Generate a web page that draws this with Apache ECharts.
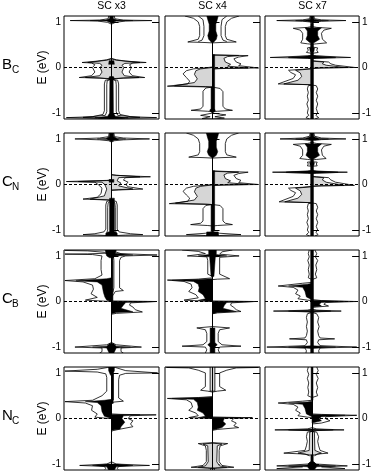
<!DOCTYPE html>
<html>
<head>
<meta charset="utf-8" />
<script src="https://cdn.jsdelivr.net/npm/echarts@6/dist/echarts.min.js"></script>
<style>
  body { margin: 0; background: #fff; }
  #main { width: 374px; height: 471px; }
</style>
</head>
<body>
<div id="main"></div>
<script type="text/javascript">
// column titles, row labels (main letter + subscript), tick labels
var colTitles = ['SC x3', 'SC x4', 'SC x7'];
var rowMain = ['B', 'C', 'C', 'N'];
var rowSub = ['C', 'N', 'B', 'C'];
var tickTicks = [-1, 1];
var tickLabels = [-1, 0, 1];

// each shape is a flat list x,E,x,E,... (x = spin DOS, left = up, right = down; E in eV)
// ---- B_C, SC x3
var bc3_out = [
  [0,1.13, -0.06,1.13, -0.07,1.07, -0.25,1.04, -0.87,1.03, -0.3,1.02, -0.08,0.99, 0,0.95],
  [0,1.13, 0.06,1.13, 0.07,1.07, 0.25,1.04, 0.85,1.03, 0.3,1.02, 0.08,0.99, 0,0.95],
  [0,0.2, -0.1,0.17, -0.3,0.14, -0.62,0.11, -0.42,0.1, -0.35,0.06, -0.4,0.0, -0.35,-0.1, -0.42,-0.18, -0.68,-0.22, -0.25,-0.23, -0.06,-0.25, 0,-0.26],
  [0,0.2, 0.1,0.17, 0.3,0.14, 0.73,0.11, 0.45,0.1, 0.38,0.06, 0.42,0.0, 0.37,-0.1, 0.44,-0.18, 0.7,-0.22, 0.25,-0.23, 0.06,-0.25, 0,-0.26],
  [0,-0.26, -0.13,-0.28, -0.15,-0.36, -0.15,-0.95, -0.18,-1.03, -0.4,-1.08, -0.95,-1.1, -0.3,-1.115, -0.1,-1.125, 0,-1.13],
  [0,-0.25, -0.09,-0.29, -0.1,-0.38, -0.1,-0.97, -0.13,-1.05, -0.6,-1.095, -0.1,-1.11, 0,-1.12],
  [0,-0.26, 0.13,-0.28, 0.15,-0.36, 0.15,-0.95, 0.18,-1.03, 0.4,-1.08, 0.95,-1.1, 0.3,-1.115, 0.1,-1.125, 0,-1.13],
  [0,-0.25, 0.09,-0.29, 0.1,-0.38, 0.1,-0.97, 0.13,-1.05, 0.6,-1.095, 0.1,-1.11, 0,-1.12]
];
var bc3_gray = [
  [0,0.19, -0.1,0.16, -0.5,0.11, -0.25,0.09, -0.2,0.05, -0.24,0.0, -0.2,-0.1, -0.25,-0.18, -0.55,-0.22, -0.1,-0.24, 0,-0.25],
  [0,0.19, 0.1,0.16, 0.6,0.11, 0.28,0.09, 0.22,0.05, 0.26,0.0, 0.22,-0.1, 0.27,-0.18, 0.58,-0.22, 0.1,-0.24, 0,-0.25]
];
var bc3_black = [
  [-0.035,1.13, 0.035,1.13, 0.04,1.07, 0.12,1.04, 0.45,1.03, 0.1,1.02, 0.03,0.99, 0,0.96, -0.03,0.99, -0.1,1.02, -0.45,1.03, -0.12,1.04, -0.04,1.07],
  [-0.05,0.15, 0.05,0.15, 0.06,0.07, -0.06,0.07],
  [-0.04,-0.2, 0.04,-0.2, 0.06,-0.24, 0.035,-0.28, 0.04,-1.0, 0.08,-1.07, 0.35,-1.1, 0.06,-1.12, 0.05,-1.13, -0.05,-1.13, -0.06,-1.12, -0.35,-1.1, -0.08,-1.07, -0.04,-1.0, -0.035,-0.28, -0.06,-0.24]
];
// ---- B_C, SC x4
var bc4_out = [
  [-0.58,1.13, -0.4,1.08, -0.3,1.0, -0.27,0.9, -0.27,0.7, -0.3,0.62, -0.52,0.56, -0.2,0.55, 0,0.54],
  [0.56,1.13, 0.4,1.08, 0.3,1.0, 0.27,0.9, 0.27,0.7, 0.3,0.62, 0.5,0.56, 0.2,0.55, 0,0.54],
  [-0.3,1.13, -0.2,1.05, -0.18,0.9, -0.18,0.7, -0.22,0.6, -0.3,0.57],
  [0.3,1.13, 0.2,1.05, 0.18,0.9, 0.18,0.7, 0.22,0.6, 0.3,0.57],
  [0,0.28, 0.2,0.275, 0.75,0.26, 0.55,0.23, 0.45,0.19, 0.5,0.12, 0.6,0.08, 0.55,0.04, 0.97,-0.01, 0.3,-0.02, 0,-0.03],
  [0,0.01, -0.1,0.0, -0.4,-0.03, -0.55,-0.07, -0.62,-0.14, -0.55,-0.22, -0.48,-0.3, -0.52,-0.36, -0.95,-0.41, -0.2,-0.425, 0,-0.43],
  [0,-0.43, -0.14,-0.45, -0.2,-0.52, -0.2,-0.85, -0.25,-0.91, -0.45,-0.94, -0.1,-0.96, 0,-0.97],
  [0,-0.43, 0.16,-0.46, 0.22,-0.53, 0.22,-0.85, 0.27,-0.91, 0.42,-0.94, 0.1,-0.96, 0,-0.97],
  [0,-1.0, -0.25,-1.05, -0.05,-1.08, -0.22,-1.12, 0,-1.13],
  [0,-1.0, 0.28,-1.04, 0.05,-1.08, 0.25,-1.11, 0,-1.13]
];
var bc4_gray = [
  [0,0.27, 0.55,0.26, 0.32,0.24, 0.24,0.2, 0.27,0.12, 0.38,0.07, 0.32,0.03, 0.75,-0.01, 0.2,-0.02, 0,-0.03],
  [0,0.0, -0.25,-0.03, -0.35,-0.07, -0.38,-0.15, -0.32,-0.25, -0.38,-0.33, -0.8,-0.4, -0.15,-0.42, 0,-0.43]
];
var bc4_black = [
  [-0.12,1.13, 0.12,1.13, 0.1,1.05, 0.07,0.95, 0.07,0.8, 0.1,0.7, 0.08,0.62, 0.02,0.55, -0.02,0.55, -0.08,0.62, -0.1,0.7, -0.07,0.8, -0.07,0.95, -0.1,1.05],
  [0,0.28, 0.045,0.28, 0.045,-0.95, 0,-0.95],
  [-0.03,-0.43, 0.03,-0.43, 0.03,-0.9, 0.06,-0.94, 0.03,-0.98, -0.03,-0.98, -0.06,-0.94, -0.03,-0.9]
];
// ---- B_C, SC x7
var bc7_out = [
  [0,1.13, -0.04,1.13, -0.05,1.07, -0.2,1.045, -0.75,1.03, -0.2,1.015, -0.05,1.0, 0,0.97],
  [0,1.13, 0.04,1.13, 0.05,1.07, 0.2,1.045, 0.72,1.03, 0.2,1.015, 0.05,1.0, 0,0.97],
  [0,0.9, -0.1,0.88, -0.4,0.86, -0.25,0.82, -0.2,0.75, -0.2,0.62, -0.24,0.54, -0.1,0.52, 0,0.51],
  [0,0.9, 0.1,0.88, 0.41,0.86, 0.25,0.82, 0.2,0.75, 0.22,0.62, 0.31,0.54, 0.1,0.52, 0,0.51],
  [0,0.45, -0.1,0.43, -0.08,0.38, -0.12,0.33, 0,0.31],
  [0,0.45, 0.12,0.43, 0.1,0.38, 0.13,0.33, 0,0.31],
  [0,0.27, -0.1,0.255, -0.89,0.22, -0.1,0.205, 0,0.19],
  [0,0.27, 0.1,0.255, 0.82,0.22, 0.1,0.205, 0,0.19],
  [0,0.15, 0.1,0.14, 0.35,0.12, 0.4,0.08, 0.5,0.05, 0.92,0.0, 0.2,-0.01, 0,-0.02],
  [0,-0.02, -0.2,-0.04, -0.5,-0.06, -0.45,-0.11, -0.35,-0.16, -0.4,-0.24, -0.72,-0.36, -0.1,-0.375, 0,-0.385],
  [0,-0.385, -0.08,-0.4, -0.1,-0.47, -0.08,-0.55, -0.1,-0.63, -0.08,-0.72, -0.11,-0.8, -0.08,-0.9, -0.1,-1.0, -0.07,-1.05, -0.13,-1.1, -0.05,-1.13],
  [0,-0.385, 0.09,-0.4, 0.12,-0.47, 0.09,-0.55, 0.12,-0.63, 0.09,-0.72, 0.12,-0.8, 0.09,-0.9, 0.12,-1.0, 0.08,-1.05, 0.14,-1.1, 0.06,-1.13]
];
var bc7_gray = [
  [0,0.14, 0.25,0.12, 0.22,0.08, 0.3,0.05, 0.7,0.0, 0.15,-0.01, 0,-0.02],
  [0,-0.03, -0.35,-0.06, -0.25,-0.12, -0.22,-0.2, -0.3,-0.28, -0.6,-0.36, 0,-0.38]
];
var bc7_black = [
  [-0.03,1.13, 0.03,1.13, 0.04,1.06, 0.15,1.035, 0.35,1.03, 0.1,1.015, 0.03,1.0, 0,0.97, -0.03,1.0, -0.1,1.015, -0.35,1.03, -0.15,1.035, -0.04,1.06],
  [-0.15,0.87, 0.2,0.87, 0.12,0.8, 0.12,0.7, 0.16,0.62, 0.05,0.55, -0.05,0.55, -0.13,0.62, -0.1,0.7, -0.1,0.8],
  [-0.05,0.43, 0.05,0.43, 0.04,0.35, -0.04,0.35],
  [-0.03,0.26, 0.03,0.26, 0.5,0.225, 0.5,0.215, 0.03,0.2, -0.03,0.2, -0.5,0.215, -0.5,0.225],
  [-0.03,0.97, 0.03,0.97, 0.03,-1.13, -0.03,-1.13]
];
// ---- C_N, SC x3
var cn3_out = [
  [0,1.13, -0.05,1.13, -0.06,1.05, -0.25,1.02, -0.77,1.0, -0.25,0.98, -0.06,0.96, 0,0.93],
  [0,1.13, 0.05,1.13, 0.06,1.05, 0.25,1.02, 0.8,1.0, 0.25,0.98, 0.06,0.96, 0,0.93],
  [0,0.22, 0.1,0.2, 0.82,0.17, 0.3,0.15, 0.25,0.1, 0.35,0.05, 0.3,0.0, 0.35,-0.05, 0.66,-0.1, 0.15,-0.12, 0,-0.13],
  [0,0.1, -0.1,0.09, -0.95,0.065, -0.35,0.05, -0.28,0.0, -0.2,-0.08, -0.22,-0.2, -0.3,-0.28, -0.6,-0.32, -0.1,-0.34, 0,-0.35],
  [0,-0.35, -0.1,-0.37, -0.12,-0.45, -0.12,-0.98, -0.16,-1.04, -0.35,-1.08, -0.6,-1.1, -0.3,-1.11, -0.1,-1.12, 0,-1.13],
  [0,-0.35, 0.1,-0.37, 0.12,-0.45, 0.12,-0.98, 0.16,-1.04, 0.4,-1.08, 0.66,-1.1, 0.3,-1.11, 0.1,-1.12, 0,-1.13],
  [0,-0.36, -0.07,-0.4, -0.08,-0.5, -0.08,-1.0, -0.1,-1.06, 0,-1.08],
  [0,-0.36, 0.07,-0.4, 0.08,-0.5, 0.08,-1.0, 0.1,-1.06, 0,-1.08]
];
var cn3_gray = [
  [0,0.21, 0.6,0.17, 0.15,0.15, 0.12,0.08, 0.2,0.03, 0.15,-0.03, 0.45,-0.1, 0,-0.12],
  [0,0.09, -0.7,0.065, -0.2,0.05, -0.14,0.0, -0.1,-0.1, -0.15,-0.25, -0.45,-0.32, 0,-0.34]
];
var cn3_black = [
  [-0.04,1.13, 0.04,1.13, 0.05,1.05, 0.12,1.01, 0.3,1.0, 0.1,0.99, 0.03,0.96, 0,0.93, -0.03,0.96, -0.1,0.99, -0.3,1.0, -0.12,1.01, -0.05,1.05],
  [-0.05,0.11, 0.05,0.11, 0.05,0.05, -0.05,0.05],
  [-0.04,-0.3, 0.06,-0.3, 0.06,-1.03, 0.12,-1.07, 0.12,-1.13, -0.12,-1.13, -0.12,-1.07, -0.04,-1.03]
];
// ---- C_N, SC x4
var cn4_out = [
  [-0.55,1.13, -0.4,1.08, -0.3,1.0, -0.27,0.9, -0.27,0.72, -0.3,0.65, -0.5,0.6, -0.2,0.59, 0,0.58],
  [0.55,1.13, 0.4,1.08, 0.3,1.0, 0.27,0.9, 0.27,0.72, 0.3,0.65, 0.5,0.6, 0.2,0.59, 0,0.58],
  [0,0.3, 0.2,0.29, 0.75,0.27, 0.55,0.24, 0.45,0.2, 0.5,0.13, 0.6,0.09, 0.55,0.04, 0.97,0.0, 0.3,-0.01, 0,-0.02],
  [0,0.0, -0.1,-0.01, -0.4,-0.04, -0.55,-0.08, -0.62,-0.15, -0.55,-0.23, -0.48,-0.3, -0.52,-0.37, -0.91,-0.42, -0.2,-0.435, 0,-0.44],
  [0,-0.44, -0.14,-0.46, -0.2,-0.53, -0.2,-0.8, -0.25,-0.85, -0.46,-0.88, -0.1,-0.9, 0,-0.91],
  [0,-0.44, 0.16,-0.46, 0.22,-0.53, 0.22,-0.8, 0.27,-0.85, 0.42,-0.88, 0.1,-0.9, 0,-0.91],
  [0,-1.04, -0.15,-1.07, -0.55,-1.1, -0.15,-1.12, 0,-1.13],
  [0,-1.04, 0.15,-1.07, 0.6,-1.1, 0.15,-1.12, 0,-1.13]
];
var cn4_gray = [
  [0,0.29, 0.55,0.27, 0.32,0.25, 0.24,0.21, 0.27,0.13, 0.38,0.08, 0.32,0.04, 0.75,0.0, 0.2,-0.01, 0,-0.02],
  [0,-0.01, -0.25,-0.04, -0.35,-0.08, -0.38,-0.16, -0.32,-0.26, -0.38,-0.34, -0.78,-0.41, -0.15,-0.43, 0,-0.44]
];
var cn4_black = [
  [-0.13,1.13, 0.13,1.13, 0.11,1.05, 0.08,0.95, 0.08,0.82, 0.11,0.72, 0.08,0.64, 0.02,0.59, -0.02,0.59, -0.08,0.64, -0.11,0.72, -0.08,0.82, -0.08,0.95, -0.11,1.05],
  [0,0.3, 0.045,0.3, 0.045,-1.0, 0,-1.0],
  [-0.03,-0.44, 0.03,-0.44, 0.03,-1.03, -0.03,-1.03],
  [-0.12,-1.04, 0.12,-1.04, 0.13,-1.13, -0.13,-1.13]
];
// ---- C_N, SC x7
var cn7_out = [
  [0,1.13, -0.04,1.13, -0.05,1.06, -0.2,1.02, -0.68,1.0, -0.2,0.985, -0.05,0.97, 0,0.94],
  [0,1.13, 0.04,1.13, 0.05,1.06, 0.2,1.02, 0.72,1.0, 0.2,0.985, 0.05,0.97, 0,0.94],
  [0,0.92, -0.1,0.9, -0.4,0.88, -0.25,0.84, -0.2,0.76, -0.2,0.64, -0.26,0.57, -0.1,0.55, 0,0.54],
  [0,0.92, 0.1,0.9, 0.41,0.88, 0.25,0.84, 0.2,0.76, 0.22,0.64, 0.3,0.57, 0.1,0.55, 0,0.54],
  [0,0.5, -0.1,0.49, -0.08,0.45, -0.1,0.41, 0,0.4],
  [0,0.5, 0.11,0.49, 0.09,0.45, 0.11,0.41, 0,0.4],
  [0,0.31, -0.1,0.29, -0.84,0.27, -0.1,0.25, 0,0.24],
  [0,0.31, 0.1,0.29, 0.75,0.27, 0.1,0.25, 0,0.24],
  [0,0.18, 0.1,0.17, 0.35,0.15, 0.4,0.1, 0.5,0.05, 0.9,-0.02, 0.2,-0.03, 0,-0.04],
  [0,-0.04, -0.2,-0.06, -0.5,-0.08, -0.45,-0.13, -0.35,-0.18, -0.4,-0.26, -0.7,-0.38, -0.1,-0.395, 0,-0.405],
  [0,-0.405, -0.08,-0.42, -0.1,-0.5, -0.08,-0.58, -0.1,-0.66, -0.08,-0.75, -0.11,-0.83, -0.08,-0.92, -0.1,-1.0, -0.07,-1.05, -0.12,-1.1, -0.05,-1.13],
  [0,-0.405, 0.09,-0.42, 0.12,-0.5, 0.09,-0.58, 0.12,-0.66, 0.09,-0.75, 0.12,-0.83, 0.09,-0.92, 0.12,-1.0, 0.08,-1.05, 0.13,-1.1, 0.06,-1.13]
];
var cn7_gray = [
  [0,0.17, 0.25,0.15, 0.22,0.1, 0.3,0.05, 0.68,-0.02, 0.15,-0.03, 0,-0.04],
  [0,-0.05, -0.35,-0.08, -0.25,-0.14, -0.22,-0.22, -0.3,-0.3, -0.58,-0.38, 0,-0.4]
];
var cn7_black = [
  [-0.03,1.13, 0.03,1.13, 0.04,1.05, 0.15,1.01, 0.35,1.0, 0.1,0.985, 0.03,0.97, 0,0.94, -0.03,0.97, -0.1,0.985, -0.35,1.0, -0.15,1.01, -0.04,1.05],
  [-0.15,0.89, 0.2,0.89, 0.12,0.82, 0.12,0.72, 0.16,0.64, 0.05,0.57, -0.05,0.57, -0.13,0.64, -0.1,0.72, -0.1,0.82],
  [-0.05,0.48, 0.05,0.48, 0.04,0.42, -0.04,0.42],
  [-0.03,0.3, 0.03,0.3, 0.55,0.275, 0.55,0.265, 0.03,0.245, -0.03,0.245, -0.55,0.265, -0.55,0.275],
  [-0.03,0.94, 0.03,0.94, 0.03,-1.13, -0.03,-1.13]
];
// ---- C_B, SC x3
var cb3_out = [
  [-0.98,1.12, -0.5,1.11, -0.15,1.08, -0.12,1.06, -0.5,1.045, -0.98,1.04, -0.4,1.03, -0.2,1.0, -0.22,0.9, -0.22,0.7, -0.2,0.58, -0.35,0.5, -0.98,0.46, -0.6,0.43, -0.4,0.36, -0.38,0.27, -0.43,0.17, -0.3,0.09, -0.55,0.03, -0.1,0.005, 0,0.0],
  [0,1.13, 0.05,1.1, 0.2,1.05, 0.96,1.02, 0.3,1.0, 0.2,0.97, 0.17,0.9, 0.17,0.3, 0.25,0.24, 0.08,0.22, 0.04,0.15, 0,0.1],
  [0.04,1.0, 0.05,0.9, 0.05,0.3, 0.03,0.2],
  [0,0.01, 0.95,0.0, 0.4,-0.03, 0.38,-0.08, 0.45,-0.12, 0.5,-0.18, 0.65,-0.23, 0.1,-0.26, 0,-0.28],
  [0,-0.9, -0.1,-0.95, -0.77,-1.0, -0.2,-1.02, -0.2,-1.1, -0.25,-1.13],
  [0,-0.9, 0.1,-0.95, 0.63,-1.0, 0.2,-1.02, 0.2,-1.1, 0.25,-1.13]
];
var cb3_gray = [];
var cb3_black = [
  [-0.13,1.13, 0.1,1.13, 0.08,1.06, 0.45,1.02, 0.06,1.0, 0.04,0.96, -0.04,0.96, -0.1,1.0, -0.12,1.06],
  [0,0.52, -0.1,0.5, -0.75,0.455, -0.3,0.43, -0.2,0.36, -0.17,0.2, -0.14,0.1, -0.1,0.03, 0,0.0],
  [0,0.98, 0.03,0.98, 0.03,0.0, 0,0.0],
  [0,0.005, 0.9,0.0, 0.3,-0.02, 0.25,-0.08, 0.2,-0.15, 0.45,-0.225, 0.1,-0.24, 0,-0.27],
  [-0.04,-0.92, 0.04,-0.92, 0.1,-0.98, 0.4,-1.0, 0.1,-1.02, 0.05,-1.13, -0.05,-1.13, -0.1,-1.02, -0.4,-1.0, -0.1,-0.98]
];
// ---- C_B, SC x4
var cb4_out = [
  [-0.64,1.13, -0.3,1.1, -0.15,1.05, -0.53,1.0, -0.12,0.98, -0.1,0.9, -0.1,0.6, 0,0.55],
  [0.42,1.13, 0.2,1.09, 0.15,1.04, 0.56,1.0, 0.15,0.97, 0.15,0.6, 0.36,0.5, 0.1,0.49, 0,0.48],
  [0,0.52, -0.3,0.49, -0.95,0.47, -0.6,0.44, -0.45,0.38, -0.43,0.3, -0.5,0.22, -0.35,0.15, -0.3,0.08, -0.6,0.03, -0.1,0.005, 0,0.0],
  [0,0.01, 0.9,0.0, 0.4,-0.03, 0.38,-0.08, 0.45,-0.13, 0.5,-0.18, 0.6,-0.22, 0.1,-0.25, 0,-0.27],
  [0,-0.55, -0.33,-0.58, -0.15,-0.62, -0.12,-0.7, -0.12,-0.88, -0.2,-0.95, -0.64,-0.98, -0.15,-1.0, -0.12,-1.06, -0.15,-1.13],
  [0,-0.55, 0.36,-0.58, 0.15,-0.62, 0.12,-0.7, 0.12,-0.88, 0.2,-0.95, 0.6,-0.98, 0.15,-1.0, 0.12,-1.06, 0.15,-1.13]
];
var cb4_gray = [];
var cb4_black = [
  [-0.08,1.13, 0.08,1.13, 0.08,1.03, 0.3,1.0, 0.06,0.98, 0.03,0.55, -0.03,0.55, -0.06,0.98, -0.3,1.0, -0.08,1.03],
  [0,0.5, -0.3,0.485, -0.85,0.465, -0.4,0.44, -0.3,0.38, -0.28,0.3, -0.3,0.22, -0.2,0.15, -0.15,0.06, -0.3,0.025, 0,0.0],
  [0,0.005, 0.85,0.0, 0.3,-0.02, 0.25,-0.08, 0.22,-0.15, 0.5,-0.22, 0.1,-0.24, 0,-0.27],
  [-0.05,-0.58, 0.05,-0.58, 0.05,-0.9, 0.1,-0.95, 0.05,-1.0, 0.05,-1.13, -0.05,-1.13, -0.05,-1.0, -0.1,-0.95, -0.05,-0.9]
];
// ---- C_B, SC x7
var cb7_out = [
  [-0.06,1.13, -0.08,1.05, -0.06,0.98, -0.09,0.9, -0.06,0.8, -0.08,0.7, -0.06,0.6, -0.08,0.52, 0,0.48],
  [0.06,1.13, 0.1,1.05, 0.07,0.98, 0.12,0.9, 0.08,0.8, 0.1,0.7, 0.07,0.6, 0.1,0.52, 0,0.48],
  [0,0.42, -0.2,0.4, -0.72,0.34, -0.4,0.31, -0.3,0.25, -0.35,0.17, -0.25,0.12, -0.3,0.06, -0.1,0.03, 0,0.02],
  [0,0.04, 0.2,0.02, 0.95,0.0, 0.3,-0.02, 0.25,-0.06, 0.35,-0.1, 0.1,-0.12, 0,-0.13],
  [0,-0.17, -0.1,-0.19, -0.82,-0.21, -0.1,-0.225, 0,-0.24],
  [0,-0.17, 0.1,-0.19, 0.62,-0.21, 0.1,-0.225, 0,-0.24],
  [0,-0.24, -0.1,-0.27, -0.12,-0.35, -0.1,-0.45, -0.12,-0.55, -0.1,-0.65, -0.12,-0.75, -0.15,-0.8, -0.48,-0.82, -0.12,-0.84, -0.1,-0.9, -0.15,-0.97, -0.96,-1.0, -0.15,-1.02, -0.12,-1.08, -0.13,-1.13],
  [0,-0.24, 0.1,-0.27, 0.14,-0.35, 0.12,-0.45, 0.15,-0.55, 0.12,-0.65, 0.14,-0.75, 0.17,-0.8, 0.48,-0.82, 0.14,-0.84, 0.12,-0.9, 0.17,-0.97, 0.95,-1.0, 0.17,-1.02, 0.14,-1.08, 0.15,-1.13]
];
var cb7_gray = [];
var cb7_black = [
  [-0.03,1.13, 0.03,1.13, 0.03,-1.13, -0.03,-1.13],
  [0,0.4, -0.1,0.38, -0.5,0.34, -0.2,0.31, -0.15,0.22, -0.12,0.1, 0,0.04],
  [0,0.03, 0.7,0.0, 0.2,-0.02, 0.15,-0.06, 0.2,-0.1, 0,-0.12],
  [0,-0.19, -0.5,-0.21, 0,-0.23, 0.4,-0.21],
  [0,-0.97, 0.5,-1.0, 0,-1.03, -0.5,-1.0]
];
// ---- N_C, SC x3
var nc3_out = [
  [0,1.13, -0.08,1.12, -0.3,1.08, -0.98,1.04, -0.3,1.02, -0.12,0.98, -0.1,0.9, -0.1,0.6, -0.2,0.5, -0.4,0.4, -0.98,0.37, -0.55,0.34, -0.4,0.28, -0.42,0.18, -0.3,0.1, -0.35,0.03, -0.05,0.0, 0,0.0],
  [0,1.13, 0.08,1.12, 0.3,1.05, 0.97,1.0, 0.3,0.99, 0.17,0.95, 0.15,0.85, 0.15,0.45, 0.25,0.38, 0.05,0.36, 0,0.33],
  [0.04,0.98, 0.04,0.4],
  [0,0.1, 0.2,0.09, 0.94,0.08, 0.4,0.06, 0.35,0.0, 0.45,-0.05, 0.4,-0.12, 0.45,-0.18, 0.2,-0.23, 0.05,-0.26, 0,-0.28],
  [0,-0.95, -0.1,-1.0, -0.67,-1.03, -0.15,-1.05, -0.12,-1.1, -0.15,-1.13],
  [0,-0.95, 0.1,-1.0, 0.8,-1.03, 0.15,-1.05, 0.12,-1.1, 0.15,-1.13]
];
var nc3_gray = [];
var nc3_black = [
  [-0.06,1.13, 0.06,1.13, 0.06,1.05, 0.02,0.95, -0.02,0.95, -0.06,1.05],
  [0,1.0, 0.035,1.0, 0.035,0.33, 0,0.33],
  [0,0.42, -0.15,0.4, -0.55,0.37, -0.3,0.35, -0.22,0.28, -0.2,0.15, -0.15,0.05, 0,0.0],
  [0,0.09, 0.6,0.08, 0.25,0.06, 0.22,0.0, 0.28,-0.08, 0.2,-0.18, 0.18,-0.23, 0,-0.26],
  [-0.1,-1.0, 0.1,-1.0, 0.45,-1.03, 0.1,-1.06, 0.06,-1.13, -0.06,-1.13, -0.1,-1.06, -0.4,-1.03]
];
// ---- N_C, SC x4
var nc4_out = [
  [0,1.13, -0.5,1.125, -0.97,1.12, -0.5,1.11, -0.3,1.06, -0.15,1.0, -0.15,0.7, -0.25,0.62, -0.1,0.6, 0,0.58],
  [0,1.13, 0.5,1.125, 0.97,1.12, 0.5,1.11, 0.3,1.06, 0.15,1.0, 0.15,0.7, 0.28,0.62, 0.1,0.6, 0,0.58],
  [0,0.48, -0.3,0.46, -0.95,0.44, -0.55,0.41, -0.45,0.35, -0.42,0.25, -0.5,0.18, -0.35,0.12, -0.3,0.06, -0.5,0.02, 0,0.0],
  [0,0.03, 0.3,0.025, 0.84,0.02, 0.45,0.0, 0.4,-0.05, 0.5,-0.1, 0.45,-0.16, 0.55,-0.2, 0.1,-0.24, 0,-0.26],
  [0,-0.53, -0.3,-0.55, -0.15,-0.6, -0.13,-0.7, -0.13,-0.95, -0.2,-1.03, -0.45,-1.07, -0.1,-1.09, 0,-1.1],
  [0,-0.53, 0.32,-0.55, 0.16,-0.6, 0.14,-0.7, 0.14,-0.95, 0.2,-1.03, 0.45,-1.07, 0.1,-1.09, 0,-1.1]
];
var nc4_gray = [
  [-0.05,1.13, 0.05,1.13, 0.05,0.6, -0.05,0.6],
  [0,-0.54, -0.2,-0.56, -0.1,-0.6, -0.09,-0.95, -0.15,-1.04, -0.3,-1.07, 0,-1.09, 0.3,-1.07, 0.15,-1.04, 0.09,-0.95, 0.1,-0.6, 0.2,-0.56],
  [-0.04,-1.09, 0.04,-1.09, 0.04,-1.13, -0.04,-1.13]
];
var nc4_black = [
  [0,0.47, -0.3,0.455, -0.85,0.44, -0.4,0.42, -0.32,0.35, -0.3,0.25, -0.32,0.18, -0.2,0.12, -0.15,0.05, -0.3,0.02, 0,0.0],
  [0,0.03, 0.6,0.02, 0.25,0.0, 0.22,-0.06, 0.28,-0.12, 0.2,-0.2, 0.05,-0.24, 0,-0.25]
];
// ---- N_C, SC x7
var nc7_out = [
  [-0.08,1.13, -0.1,1.05, -0.07,0.97, -0.1,0.88, -0.07,0.78, -0.09,0.68, -0.07,0.58, -0.09,0.5, 0,0.46],
  [0.1,1.13, 0.13,1.05, 0.09,0.97, 0.13,0.88, 0.09,0.78, 0.12,0.68, 0.09,0.58, 0.12,0.5, 0,0.46],
  [0,0.4, -0.2,0.38, -0.72,0.34, -0.4,0.31, -0.3,0.25, -0.35,0.18, -0.25,0.12, -0.3,0.06, -0.1,0.03, 0,0.02],
  [0,0.1, 0.2,0.09, 0.95,0.07, 0.3,0.04, 0.28,0.0, 0.38,-0.05, 0.2,-0.1, 0,-0.12],
  [0,-0.2, -0.1,-0.23, -0.79,-0.25, -0.1,-0.265, 0,-0.28],
  [0,-0.2, 0.1,-0.23, 0.68,-0.25, 0.1,-0.265, 0,-0.28],
  [0,-0.28, -0.1,-0.3, -0.12,-0.4, -0.1,-0.5, -0.12,-0.6, -0.15,-0.7, -0.6,-0.76, -0.15,-0.78, -0.05,-0.82],
  [0,-0.28, 0.1,-0.3, 0.14,-0.4, 0.12,-0.5, 0.14,-0.6, 0.17,-0.7, 0.34,-0.76, 0.12,-0.78, 0.05,-0.82],
  [0,-0.95, -0.1,-1.0, -0.75,-1.04, -0.2,-1.06, -0.75,-1.1, -0.1,-1.12, 0,-1.13],
  [0,-0.95, 0.1,-1.0, 0.75,-1.04, 0.2,-1.06, 0.7,-1.1, 0.1,-1.12, 0,-1.13]
];
var nc7_gray = [
  [0,-0.28, -0.05,-0.3, -0.06,-0.7, -0.3,-0.76, -0.05,-0.8, 0.05,-0.8, 0.2,-0.76, 0.06,-0.7, 0.05,-0.3]
];
var nc7_black = [
  [-0.02,1.13, 0.02,1.13, 0.02,0.4, -0.02,0.4],
  [0,0.38, -0.1,0.36, -0.5,0.34, -0.2,0.31, -0.15,0.22, -0.12,0.1, 0,0.04],
  [0,0.09, 0.7,0.07, 0.2,0.04, 0.15,0.0, 0.2,-0.05, 0,-0.1],
  [0,-0.23, -0.5,-0.25, 0,-0.27, 0.45,-0.25],
  [-0.04,-0.95, 0.04,-0.95, 0.1,-1.02, 0.5,-1.04, 0.1,-1.06, 0.04,-1.13, -0.04,-1.13, -0.1,-1.06, -0.5,-1.04, -0.1,-1.02],
  [-0.025,-0.8, 0.025,-0.8, 0.025,-0.95, -0.025,-0.95]
];

var panels = [
  [bc3_gray, bc3_out, bc3_black], [bc4_gray, bc4_out, bc4_black], [bc7_gray, bc7_out, bc7_black],
  [cn3_gray, cn3_out, cn3_black], [cn4_gray, cn4_out, cn4_black], [cn7_gray, cn7_out, cn7_black],
  [cb3_gray, cb3_out, cb3_black], [cb4_gray, cb4_out, cb4_black], [cb7_gray, cb7_out, cb7_black],
  [nc3_gray, nc3_out, nc3_black], [nc4_gray, nc4_out, nc4_black], [nc7_gray, nc7_out, nc7_black]
];

var FONT = '"Liberation Sans", Arial, Helvetica, sans-serif';
var colLeft = [64, 165, 265];
var panelW = 95, panelH = 103;
var E_MAX = 1.13;

function shapeSeries(shapes, kind, k) {
  return {
    type: 'custom',
    xAxisIndex: k,
    yAxisIndex: 2 * k,
    clip: true,
    silent: true,
    z: kind === 'gray' ? 2 : (kind === 'out' ? 3 : 4),
    data: shapes.map(function () { return [0, 0]; }),
    encode: { x: 0, y: 1 },
    renderItem: function (params, api) {
      var s = shapes[params.dataIndex];
      var pts = [];
      for (var i = 0; i < s.length; i += 2) pts.push(api.coord([s[i], s[i + 1]]));
      if (kind === 'out') {
        return { type: 'polyline', shape: { points: pts }, style: { stroke: '#000', lineWidth: 0.8, fill: null } };
      }
      return {
        type: 'polygon', shape: { points: pts },
        style: kind === 'gray'
          ? { fill: '#d6d6d6', stroke: '#000', lineWidth: 0.8 }
          : { fill: '#000', stroke: '#000', lineWidth: 0.5 }
      };
    }
  };
}

function buildOption() {
  var grids = [], xAxes = [], yAxes = [], series = [], graphics = [];
  for (var r = 0; r < 4; r++) {
    for (var c = 0; c < 3; c++) {
      var k = r * 3 + c;
      var gTop = 16 + 117 * r;
      grids.push({ left: colLeft[c], top: gTop, width: panelW, height: panelH, show: true,
        borderColor: '#000', borderWidth: 1, backgroundColor: '#fff' });
      xAxes.push({ gridIndex: k, type: 'value', min: -1, max: 1, show: false });
      for (var side = 0; side < 2; side++) {
        yAxes.push({
          gridIndex: k, type: 'value', min: -E_MAX, max: E_MAX,
          position: side === 0 ? 'left' : 'right',
          axisLine: { show: false }, splitLine: { show: false },
          axisTick: { show: true, inside: true, length: 7, customValues: tickTicks, lineStyle: { color: '#000', width: 1 } },
          axisLabel: { show: (side === 0 && c === 0) || (side === 1 && c === 2), customValues: tickLabels,
            color: '#000', fontSize: 10, fontFamily: FONT, margin: 3 }
        });
      }
      var p = panels[k];
      series.push(shapeSeries(p[0], 'gray', k));
      series.push(shapeSeries(p[1], 'out', k));
      series.push(shapeSeries(p[2], 'black', k));
      series.push({
        type: 'line', xAxisIndex: k, yAxisIndex: 2 * k, data: [], silent: true, z: 5,
        markLine: {
          silent: true, symbol: ['none', 'none'], label: { show: false }, animation: false,
          data: [
            { xAxis: 0, lineStyle: { color: '#000', width: 1, type: 'solid' } },
            { yAxis: 0, lineStyle: { color: '#000', width: 1, type: [3, 2] } }
          ]
        }
      });
    }
  }
  for (var c2 = 0; c2 < 3; c2++) {
    graphics.push({ type: 'text', x: colLeft[c2] + panelW / 2, y: 6,
      style: { text: colTitles[c2], font: '10.5px ' + FONT, fill: '#000', align: 'center', verticalAlign: 'middle' } });
  }
  for (var r2 = 0; r2 < 4; r2++) {
    var rc = 16 + 117 * r2 + panelH / 2;
    graphics.push({ type: 'text', x: 2, y: rc - 2.5,
      style: { text: rowMain[r2], font: '15px ' + FONT, fill: '#000', align: 'left', verticalAlign: 'middle' } });
    graphics.push({ type: 'text', x: 12, y: rc + 3,
      style: { text: rowSub[r2], font: '10px ' + FONT, fill: '#000', align: 'left', verticalAlign: 'middle' } });
    graphics.push({ type: 'text', x: 43, y: rc, rotation: Math.PI / 2,
      style: { text: 'E (eV)', font: '12px ' + FONT, fill: '#000', align: 'center', verticalAlign: 'middle' } });
  }
  return { animation: false, backgroundColor: '#fff', grid: grids, xAxis: xAxes, yAxis: yAxes, series: series, graphic: graphics };
}

var chart = echarts.init(document.getElementById('main'));
chart.setOption(buildOption());
</script>
</body>
</html>
